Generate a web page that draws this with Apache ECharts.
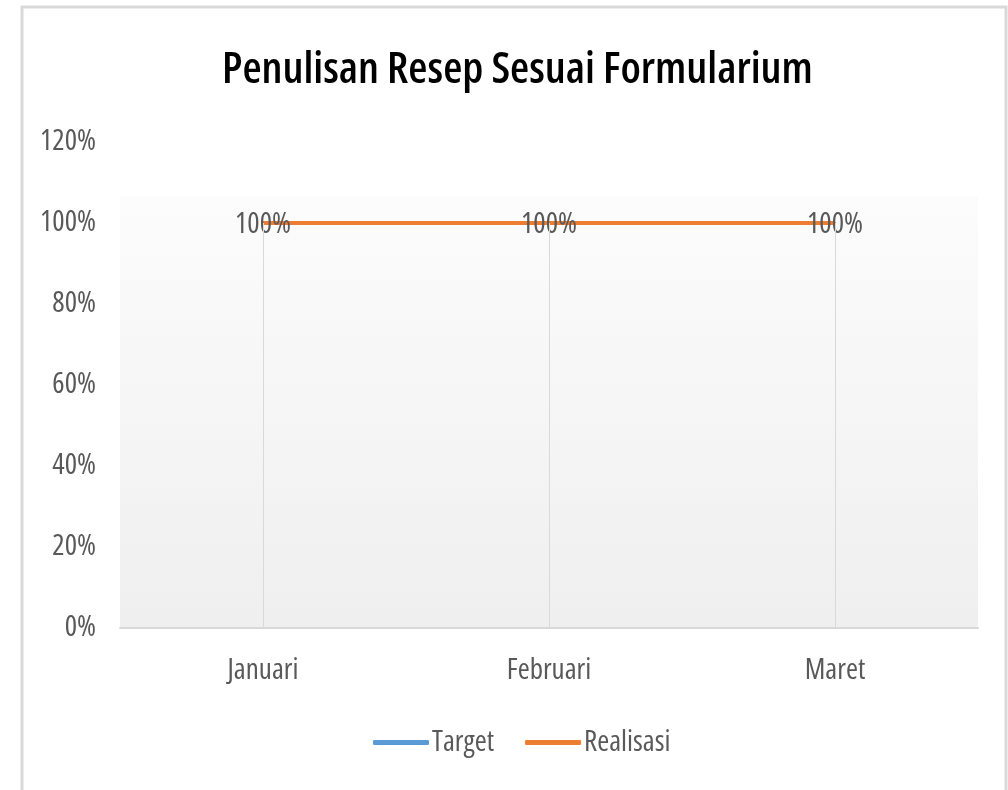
<!DOCTYPE html>
<html>
<head>
<meta charset="utf-8">
<script src="https://cdn.jsdelivr.net/npm/echarts@6/dist/echarts.min.js"></script>
<style>
  html, body { margin: 0; padding: 0; background: #fff; }
  #chart { width: 1008px; height: 790px; }
</style>
</head>
<body>
<div id="chart"></div>
<script>
// data
const months = ['Januari', 'Februari', 'Maret'];
const target = [1, 1, 1];
const realisasi = [1, 1, 1];
const yTicks = [0, 0.2, 0.4, 0.6, 0.8, 1.0, 1.2];

const textGray = '#595959';
// narrow look of the original: Open Sans squeezed with font-stretch
const fontFam = '"Open Sans", sans-serif';
const narrow = 'condensed';

const pct = v => Math.round(v * 100) + '%';

let myChart = echarts.init(document.getElementById('chart'));
let option = {
	backgroundColor: '#fff',
	animation: false,
	title: {
		text: 'Penulisan Resep Sesuai Formularium',
		left: 217,
		top: 43,
		textStyle: {
			fontFamily: fontFam,
			fontStyle: narrow,
			fontWeight: 600,
			fontSize: 44,
			color: '#000'
		}
	},
	graphic: [{
		type: 'rect',
		shape: { x: 22, y: 7, width: 984, height: 820 },
		style: { fill: null, stroke: '#d9d9d9', lineWidth: 3 },
		silent: true,
		z: -1
	}],
	legend: {
		bottom: 28,
		left: 368,
		itemWidth: 56,
		itemHeight: 5,
		itemGap: 31,
		icon: 'roundRect',
		textStyle: { fontFamily: fontFam, fontStyle: narrow, fontSize: 29, color: textGray, padding: [0, 0, 0, -2] },
		data: ['Target', 'Realisasi']
	},
	grid: {
		left: 120,
		right: 30,
		top: 142,
		bottom: 162,
		show: true,
		borderWidth: 0,
		backgroundColor: new echarts.graphic.LinearGradient(0, 0, 0, 1, [
			{ offset: 0, color: '#ffffff' },
			{ offset: 0.11, color: '#ffffff' },
			{ offset: 0.112, color: '#fcfcfc' },
			{ offset: 1, color: '#efefef' }
		])
	},
	xAxis: {
		type: 'category',
		data: months,
		boundaryGap: true,
		axisLine: { lineStyle: { color: '#d9d9d9', width: 2 } },
		axisTick: { show: false },
		axisLabel: {
			fontFamily: fontFam,
			fontStyle: narrow,
			fontSize: 29,
			color: textGray,
			margin: 28
		},
		splitLine: { show: false }
	},
	yAxis: {
		type: 'value',
		min: yTicks[0],
		max: yTicks[yTicks.length - 1],
		interval: 0.2,
		axisLine: { show: false },
		axisTick: { show: false },
		splitLine: { show: false },
		axisLabel: {
			fontFamily: fontFam,
			fontStyle: narrow,
			fontSize: 29,
			color: textGray,
			margin: 24,
			formatter: pct
		}
	},
	series: [{
		name: 'Target',
		type: 'line',
		data: target,
		symbol: 'none',
		color: '#5b9bd5',
		lineStyle: { width: 4, color: '#5b9bd5' },
		// drop lines from each point down to the axis
		markLine: {
			silent: true,
			symbol: 'none',
			label: { show: false },
			lineStyle: { color: '#d9d9d9', width: 1, type: 'solid' },
			data: months.map((m, i) => [
				{ coord: [m, Math.max(target[i], realisasi[i])] },
				{ coord: [m, 0] }
			])
		}
	}, {
		name: 'Realisasi',
		type: 'line',
		data: realisasi,
		symbol: 'circle',
		symbolSize: 2,
		color: '#ed7d31',
		itemStyle: { color: '#ed7d31' },
		lineStyle: { width: 4, color: '#ed7d31' },
		label: {
			show: true,
			position: 'inside',
			offset: [0, 2],
			fontFamily: fontFam,
			fontStyle: narrow,
			fontSize: 29,
			color: textGray,
			formatter: p => pct(p.value)
		}
	}]
};
myChart.setOption(option);
</script>
</body>
</html>
